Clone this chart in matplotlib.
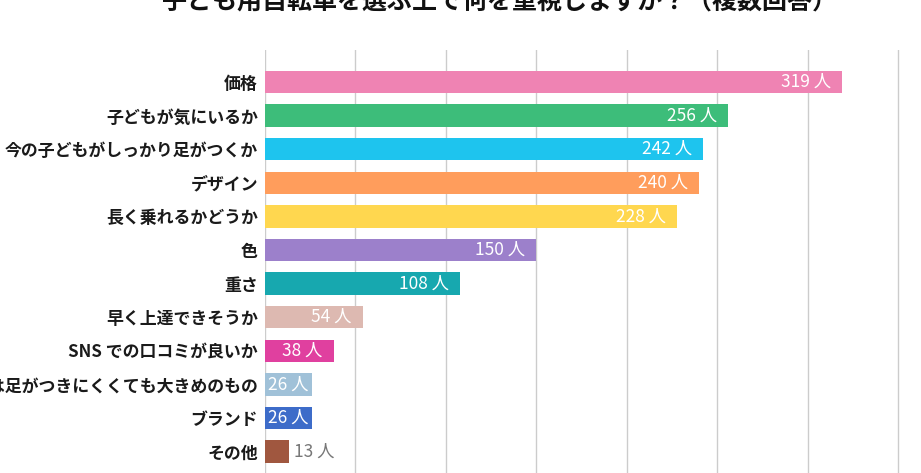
import matplotlib.pyplot as plt

plt.rcParams['font.family'] = ['Noto Sans CJK JP', 'DejaVu Sans']

categories = ['価格', '子どもが気にいるか', '今の子どもがしっかり足がつくか', 'デザイン',
              '長く乗れるかどうか', '色', '重さ', '早く上達できそうか',
              'SNS での口コミが良いか', '今は足がつきにくくても大きめのもの', 'ブランド', 'その他']
counts = [319, 256, 242, 240, 228, 150, 108, 54, 38, 26, 26, 13]
colors = ['#EF83B3', '#3DBD7A', '#1EC4EE', '#FF9D5C', '#FFD74F', '#9C80CB',
          '#17A8AF', '#DDB9B1', '#E0409F', '#A0C1D8', '#3D6CC9', '#A0573F']
title = '子ども用自転車を選ぶ上で何を重視しますか？（複数回答）'

fig = plt.figure(figsize=(9.21, 4.73), dpi=100)
# axes: left edge at 265px, first bar center at 82px, pitch 33.6px
top_px, bottom_px = 50, 473
pitch = 33.6
y_top = -(82 - top_px) / pitch
y_bot = (bottom_px - 82) / pitch
ax = fig.add_axes([265 / 921, 0, 651 / 921, (bottom_px - top_px) / 473])

y = list(range(len(categories)))
ax.barh(y, counts, height=0.67, color=colors, zorder=2)
ax.set_ylim(y_bot, y_top)
ax.set_xlim(0, 360)
ax.set_xticks(range(0, 351, 50))
ax.grid(axis='x', color='#cccccc', linewidth=1, zorder=0)
ax.tick_params(axis='x', length=0, labelbottom=False)
ax.tick_params(axis='y', length=0, pad=5)
ax.set_yticks(y)
ax.set_yticklabels(categories, fontsize=12.2, fontweight='bold', color='#1a1a1a')
for s in ax.spines.values():
    s.set_visible(False)

for i, v in enumerate(counts):
    label = f'{v} 人'
    if v >= 38:
        ax.text(v - 6, i, label, ha='right', va='center', color='white',
                fontsize=12.5, zorder=3)
    elif v >= 20:
        ax.text(1.5, i, label, ha='left', va='center', color='white',
                fontsize=12.5, zorder=3)
    else:
        ax.text(v + 3, i, label, ha='left', va='center', color='#777777',
                fontsize=12.5, zorder=3)

fig.text(499 / 921, 0.995, title, ha='center', va='center', fontsize=18,
         fontweight='bold', color='#111111')

fig.savefig('out.png', dpi=100)
